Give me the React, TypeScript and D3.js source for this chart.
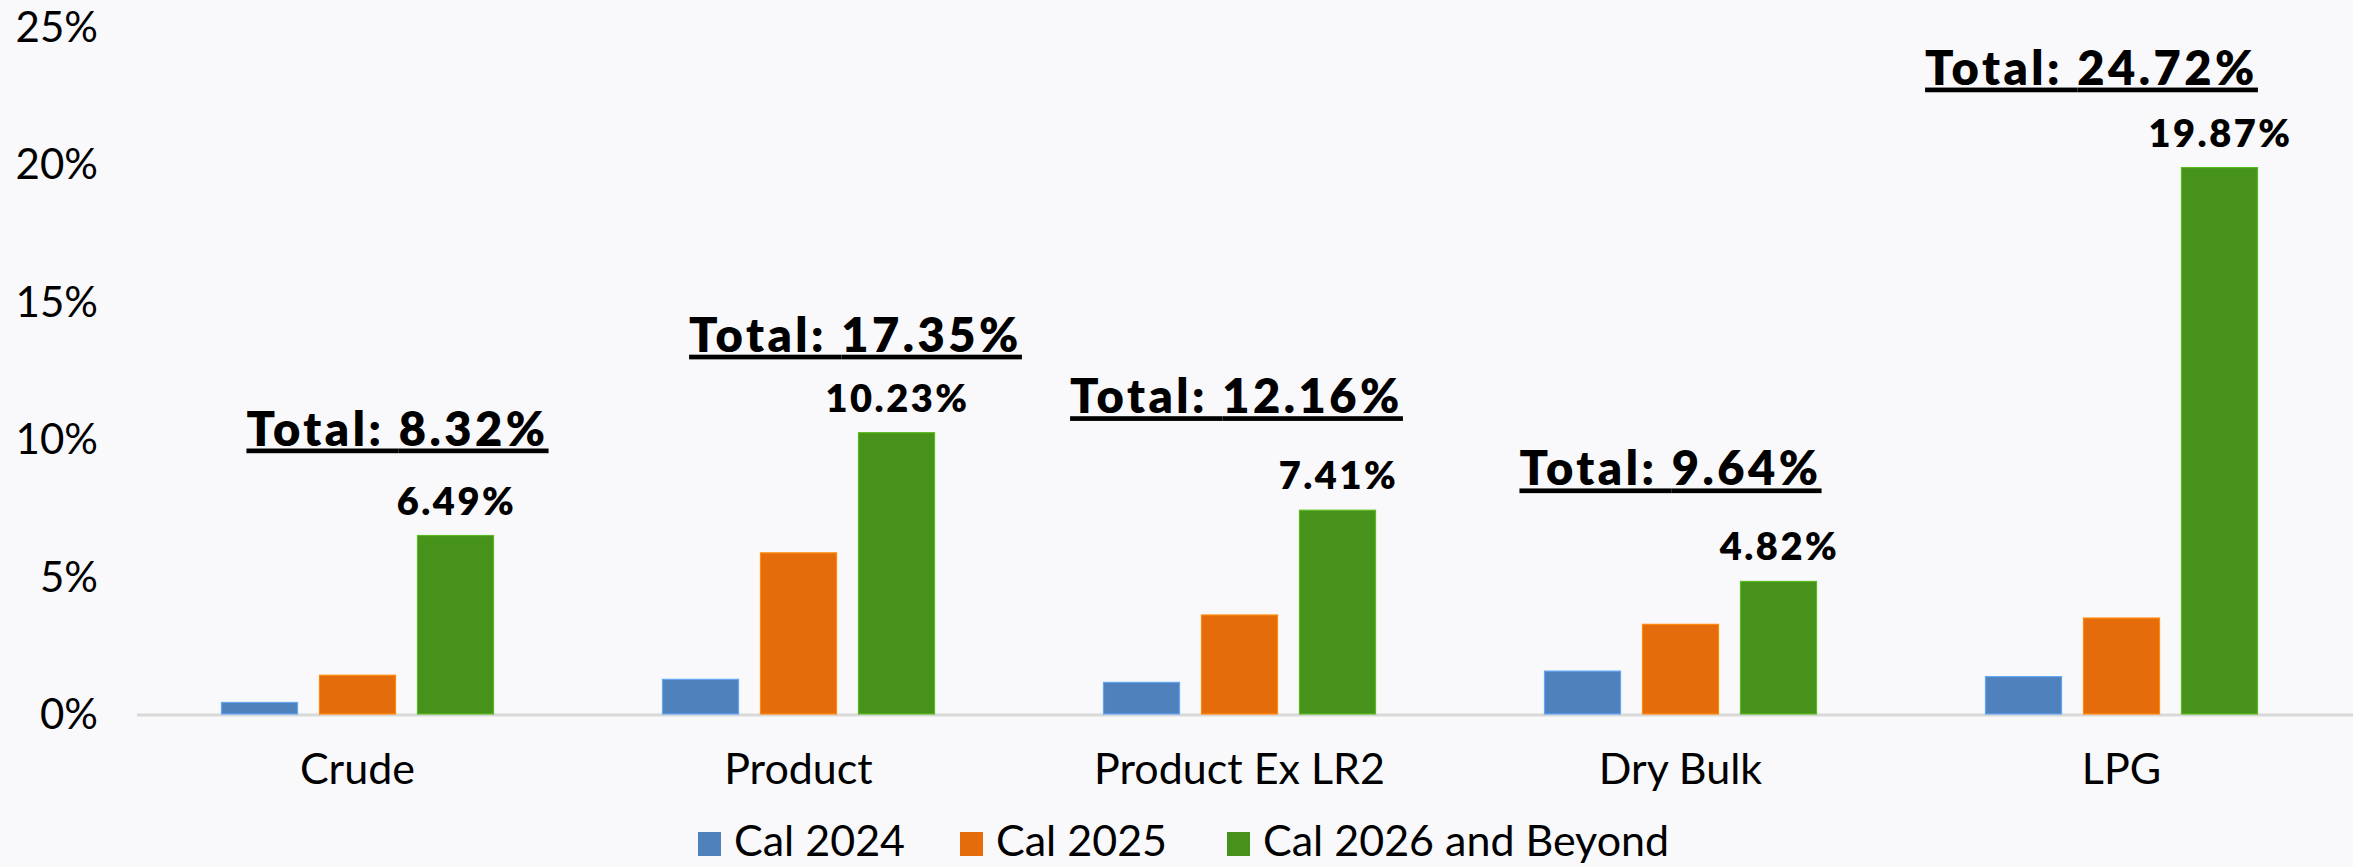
import { useMemo } from 'react'
import * as d3 from 'd3'

const WIDTH = 2353
const HEIGHT = 867
const FONT = 'Lato, "Noto Sans", sans-serif'

// chart data
const CATEGORIES = ['Crude', 'Product', 'Product Ex LR2', 'Dry Bulk', 'LPG']
const SERIES = ['Cal 2024', 'Cal 2025', 'Cal 2026 and Beyond']
const CAL_2024 = [0.42, 1.26, 1.15, 1.56, 1.36]
const CAL_2025 = [1.41, 5.86, 3.6, 3.26, 3.49]
const CAL_2026 = [6.49, 10.23, 7.41, 4.82, 19.87]
const TOTALS = [8.32, 17.35, 12.16, 9.64, 24.72]
const Y_TICKS = [0, 5, 10, 15, 20, 25]

const COLORS = ['#4f81bd', '#e46c0a', '#46921a']

// hand-placed text boxes in the original, nudged from a common anchor
const TOTAL_NUDGE_X = [38, 55, -5, -12, -32]
const TOTAL_NUDGE_Y = [0, 9, -7, -6, 7]
const LEGEND_X = [698, 960, 1227]

export default function App() {
  const seriesValues = [CAL_2024, CAL_2025, CAL_2026]

  const y = useMemo(() => d3.scaleLinear().domain([0, 25]).range([714, 26.5]), [])
  const x0 = useMemo(
    () => d3.scaleBand().domain(CATEGORIES).range([137, 2342]),
    []
  )
  const x1 = useMemo(
    () =>
      d3.scaleBand()
        .domain(SERIES)
        .range([0, x0.bandwidth()])
        .paddingInner(0.224)
        .paddingOuter(0.862),
    [x0]
  )

  const fmt = (v: number) => `${v.toFixed(2)}%`

  return (
    <svg
      width={WIDTH}
      height={HEIGHT}
      style={{ position: 'absolute', left: 0, top: 0, display: 'block', background: '#f9f9fb' }}
      fontFamily={FONT}
    >
      <rect width={WIDTH} height={HEIGHT} fill="#f9f9fb" />

      {/* y axis labels */}
      {Y_TICKS.map(t => (
        <text key={t} x={98} y={y(t) + 15} fontSize={42} textAnchor="end" fill="#000">
          {t}%
        </text>
      ))}

      {/* baseline */}
      <line x1={137} x2={WIDTH} y1={y(0) + 1} y2={y(0) + 1} stroke="#d9d9d9" strokeWidth={3} />

      {/* bars */}
      {CATEGORIES.map((cat, ci) => (
        <g key={cat} transform={`translate(${x0(cat)},0)`}>
          {SERIES.map((s, si) => {
            const v = seriesValues[si][ci]
            return (
              <rect
                key={s}
                x={x1(s)}
                y={y(v)}
                width={x1.bandwidth()}
                height={y(0) - y(v)}
                fill={COLORS[si]}
                stroke={d3.color(COLORS[si])!.brighter(0.7).toString()}
                strokeWidth={1.2}
              />
            )
          })}
          {/* value label on the last series */}
          <text
            x={(x1(SERIES[2]) ?? 0) + x1.bandwidth() / 2 + 1}
            y={y(CAL_2026[ci]) - 21}
            fontSize={38}
            fontWeight={800}
            letterSpacing={2.5}
            textAnchor="middle"
            fill="#000"
          >
            {fmt(CAL_2026[ci])}
          </text>
          {/* category label */}
          <text x={x0.bandwidth() / 2} y={784} fontSize={43} textAnchor="middle" fill="#000">
            {cat}
          </text>
        </g>
      ))}

      {/* total annotations */}
      {CATEGORIES.map((cat, ci) => (
        <text
          key={`total-${cat}`}
          x={(x0(cat) ?? 0) + x0.bandwidth() / 2 + TOTAL_NUDGE_X[ci] + 2}
          y={y(CAL_2026[ci]) - 90 + TOTAL_NUDGE_Y[ci]}
          fontSize={47}
          fontWeight={800}
          letterSpacing={3.5}
          textAnchor="middle"
          textDecoration="underline"
          fill="#000"
        >
          Total: {fmt(TOTALS[ci])}
        </text>
      ))}

      {/* legend */}
      {SERIES.map((s, si) => (
        <g key={s} transform={`translate(${LEGEND_X[si]},0)`}>
          <rect x={0} y={832} width={23} height={24} fill={COLORS[si]} />
          <text x={36} y={856} fontSize={43} fill="#000">
            {s}
          </text>
        </g>
      ))}
    </svg>
  )
}
